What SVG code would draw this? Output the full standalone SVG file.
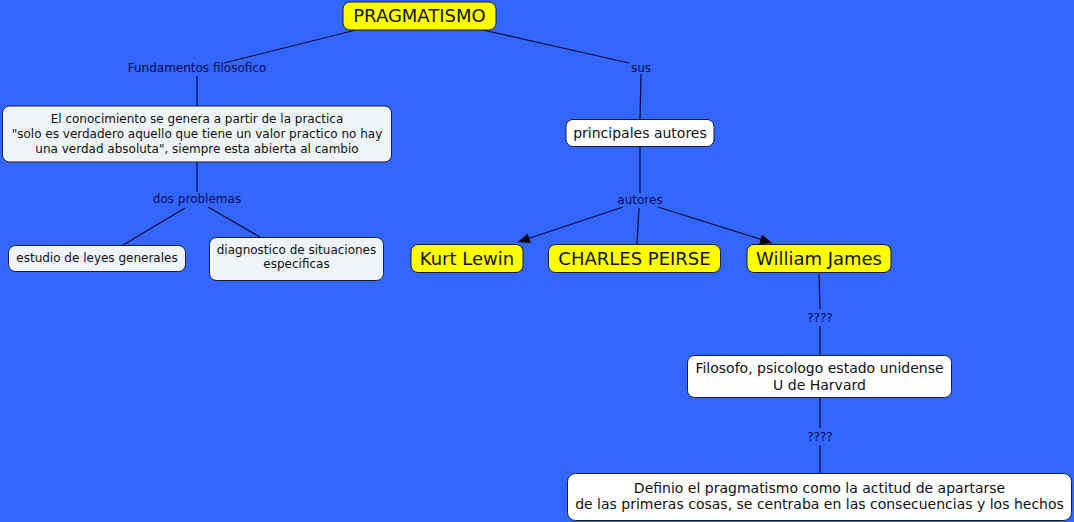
<svg xmlns="http://www.w3.org/2000/svg" width="1074" height="522" viewBox="0 0 1074 522">
<style>
.bg{fill:#3366FF}
.y{fill:#FFFF00;stroke:#1a1a33;stroke-width:1}
.w{fill:#FFFFFF;stroke:#1a1a33;stroke-width:1}
.g{fill:#EEF4F7;stroke:#1a1a33;stroke-width:1}
text{font-family:"DejaVu Sans",Verdana,sans-serif;text-anchor:middle;fill:#111}
.big{font-size:18px}
.mid{font-size:14px}
.sm{font-size:12px}
.lbl{font-size:12px;fill:#0a0a55}
.ln{stroke:#0a0a33;stroke-width:1.2;fill:none}
</style>
<defs>
<marker id="ah" markerUnits="userSpaceOnUse" markerWidth="12" markerHeight="10" refX="12" refY="5" orient="auto">
<path d="M0,0 L12,5 L0,10 Z" fill="#000"/>
</marker>
</defs>
<rect class="bg" x="0" y="0" width="1074" height="522"/>
<g id="connectors">
<line class="ln" x1="356" y1="30" x2="224" y2="63"/>
<line class="ln" x1="197" y1="76" x2="197" y2="106"/>
<line class="ln" x1="483" y1="30" x2="629" y2="63"/>
<line class="ln" x1="641" y1="74" x2="640" y2="119"/>
<line class="ln" x1="197" y1="162" x2="197" y2="192"/>
<line class="ln" x1="185" y1="208" x2="123" y2="245"/>
<line class="ln" x1="208" y1="207" x2="260" y2="237"/>
<line class="ln" x1="640" y1="147" x2="640" y2="193"/>
<line class="ln" x1="623" y1="207" x2="518" y2="242" marker-end="url(#ah)"/>
<line class="ln" x1="639" y1="208" x2="637" y2="244"/>
<line class="ln" x1="658" y1="207" x2="772" y2="243" marker-end="url(#ah)"/>
<line class="ln" x1="819" y1="274" x2="820" y2="309"/>
<line class="ln" x1="820" y1="326" x2="820" y2="355"/>
<line class="ln" x1="820" y1="398" x2="820" y2="428"/>
<line class="ln" x1="820" y1="445" x2="820" y2="473"/>
<text class="lbl" x="197" y="72">Fundamentos filosofico</text>
<text class="lbl" x="641" y="72">sus</text>
<text class="lbl" x="197" y="203">dos problemas</text>
<text class="lbl" x="640" y="204">autores</text>
<text class="lbl" x="820" y="322">????</text>
<text class="lbl" x="820" y="441">????</text>
</g>
<g id="pragmatismo">
<rect class="y" x="343" y="2" width="153" height="28" rx="7"/>
<text class="big" x="419.5" y="22">PRAGMATISMO</text>
</g>
<g id="conocimiento">
<rect class="g" x="2.5" y="106" width="389" height="56" rx="7"/>
<text class="sm" x="197" y="123">El conocimiento se genera a partir de la practica</text>
<text class="sm" x="197" y="138">"solo es verdadero aquello que tiene un valor practico no hay</text>
<text class="sm" x="197" y="153">una verdad absoluta", siempre esta abierta al cambio</text>
</g>
<g id="estudio">
<rect class="g" x="8.5" y="245.5" width="177" height="26" rx="7"/>
<text class="sm" x="97" y="262">estudio de leyes generales</text>
</g>
<g id="diagnostico">
<rect class="g" x="209.5" y="237.5" width="174" height="43" rx="7"/>
<text class="sm" x="296.5" y="254">diagnostico de situaciones</text>
<text class="sm" x="296.5" y="268">especificas</text>
</g>
<g id="principales">
<rect class="w" x="566" y="119.5" width="148" height="27" rx="7"/>
<text class="mid" x="640" y="138">principales autores</text>
</g>
<g id="kurt">
<rect class="y" x="411" y="244.5" width="112" height="28" rx="7"/>
<text class="big" x="467" y="265">Kurt Lewin</text>
</g>
<g id="charles">
<rect class="y" x="548.5" y="244.5" width="172" height="28" rx="7"/>
<text class="big" x="634.5" y="265">CHARLES PEIRSE</text>
</g>
<g id="william">
<rect class="y" x="747" y="244.5" width="144" height="28" rx="7"/>
<text class="big" x="819" y="265">William James</text>
</g>
<g id="filosofo">
<rect class="w" x="687.5" y="355.5" width="264" height="42" rx="7"/>
<text class="mid" x="819.5" y="373">Filosofo, psicologo estado unidense</text>
<text class="mid" x="819.5" y="390">U de Harvard</text>
</g>
<g id="definio">
<rect class="w" x="567.5" y="473.5" width="504" height="47" rx="8"/>
<text class="mid" x="819.5" y="493">Definio el pragmatismo como la actitud de apartarse</text>
<text class="mid" x="819.5" y="509">de las primeras cosas, se centraba en las consecuencias y los hechos</text>
</g>
</svg>
